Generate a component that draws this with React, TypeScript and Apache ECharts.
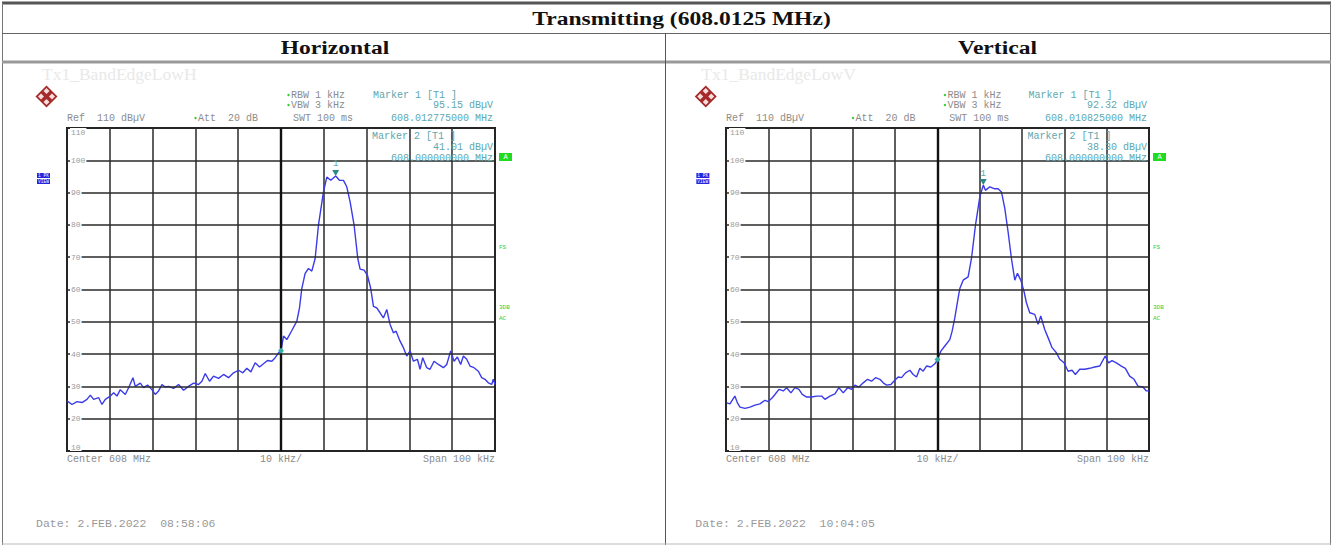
import React, { useEffect, useRef } from "react";
import * as echarts from "echarts";

// ---------- data ----------
const yTicks = [10, 20, 30, 40, 50, 60, 70, 80, 90, 100, 110];

const hFreq = [
  -50, -48.83, -47.67, -46.5, -45.33, -44.55, -43.77, -42.6, -41.83, -41.05, -39.88, -39.1, -38.33, -37.55,
  -36.38, -35.6, -34.59, -34.05, -32.88, -32.1, -31.17, -30.16, -29.38, -28.6, -27.82, -27.04, -26.26, -25.1,
  -23.93, -22.76, -21.6, -20.43, -19.26, -18.48, -17.7, -16.69, -15.76, -14.59, -13.42, -12.26, -11.09, -9.92,
  -8.91, -7.98, -7.04, -6.03, -5.02, -4.09, -3.15, -2.14, -1.36, -0.58, 0, 0.58, 1.36, 2.53, 3.7, 4.32, 4.86,
  5.64, 6.42, 7.2, 7.98, 8.75, 9.92, 10.7, 11.63, 12.775, 13.66, 14.59, 15.37, 16.15, 17.08, 17.94, 18.48,
  19.42, 20.19, 20.97, 21.6, 22.37, 23.15, 23.93, 24.71, 25.49, 26.26, 26.89, 27.82, 28.6, 29.38, 30.16,
  30.93, 31.87, 32.49, 33.11, 34.05, 34.82, 35.76, 36.77, 37.94, 38.72, 39.65, 40.43, 41.21, 41.98, 42.61,
  43.39, 44.16, 45.1, 46.11, 46.89, 47.67, 48.44, 49.22, 49.6, 50,
];
const hLevel = [
  25.5, 24.4, 25.3, 25, 26, 27.3, 26, 26.5, 24.4, 26, 27, 28, 27, 29,
  27.5, 29.6, 32.7, 30, 31, 29.6, 30.4, 29, 27.5, 28.6, 30.6, 29.8, 30, 29.4,
  30.6, 28.8, 30, 31, 30.6, 31.6, 34, 31.6, 33.2, 32.5, 33.7, 32.7, 34.2, 35,
  34.2, 35.6, 34.5, 37.3, 36, 37, 38, 37.8, 38.9, 40.4, 41.0, 45.6, 44.5, 47.3, 50.2, 54.3, 60.3,
  65, 66.5, 65.7, 69.6, 79.9, 90.2, 94.8, 93.8, 95.15, 93.8, 93.8, 91.8, 87.1, 79.9, 69.6, 66.3,
  66, 64.4, 60.3, 54.8, 54.3, 52.8, 51.2, 53.8, 49.2, 46.6, 47.1, 44, 42, 39.4, 41,
  37.8, 38.4, 35.3, 38.9, 35.8, 35.3, 37.8, 36.8, 35.8, 36.8, 41, 37.8, 39.1, 36.8, 39.4,
  38.4, 36.3, 35.8, 34.7, 32.7, 32.2, 31.1, 30.6, 32.2, 30.6,
];

const vFreq = [
  -49.84, -49.06, -48.4, -47.9, -47.3, -46.69, -45.51, -44.33, -43.15, -41.97, -40.79, -40, -39.06, -38.43,
  -37.48, -36.46, -35.67, -34.65, -33.7, -32.76, -31.97, -30.94, -29.76, -28.58, -27.4, -26.61, -25.43, -24.25,
  -23.31, -22.28, -21.26, -20.31, -19.53, -18.58, -17.56, -16.54, -15.59, -14.65, -13.62, -12.83, -12.05, -11.02,
  -10.08, -9.29, -8.5, -7.56, -6.54, -5.75, -4.96, -4.17, -3.39, -2.6, -1.57, -0.63, 0, 0.79, 1.73, 2.91, 3.46,
  4.09, 4.88, 5.28, 6.06, 7.24, 8.03, 8.98, 10, 10.825, 11.34, 12.36, 13.39, 14.33, 15.12, 15.91, 16.69, 17.48,
  18.27, 18.9, 19.69, 20.47, 21.02, 21.81, 22.99, 23.78, 24.41, 25.35, 26.14, 27.09, 28.11, 28.9, 29.92, 30.87,
  31.81, 32.6, 33.62, 34.8, 35.98, 37.17, 38.35, 39.65, 40.43, 41.26, 42.28, 43.46, 44.41, 45.43, 46.46, 47.4,
  48.58, 49.37, 50,
];
const vLevel = [
  24.9, 24.6, 26, 27, 24.9, 23.6, 23.2, 23.6, 24.2, 24.6, 25.7, 25.3, 26.5, 27.5,
  29.1, 28.6, 29.6, 28, 29.6, 29.1, 27.5, 26.7, 26.7, 27, 27, 26, 27, 27.7,
  29.6, 28, 29.6, 29.1, 30.4, 29.8, 31.1, 32.2, 31.6, 32.7, 32.2, 31.1, 30.4, 30.6,
  31.9, 32.9, 32.7, 34.2, 35, 33.7, 32.9, 35.6, 34.7, 36.3, 36, 37, 38.3, 40.9, 42.5, 44.5, 47.1,
  51.2, 57.4, 60.3, 62.9, 63.9, 69.6, 79.9, 88.7, 92.32, 90.7, 91.8, 91.2, 91.2, 90.2, 85.1, 77.8, 69.6,
  62.9, 65, 62.9, 59.3, 55.9, 52.8, 52.3, 49.2, 51.8, 47.6, 45.1, 42, 40.4, 38.4, 37.3, 34.7,
  35, 33.7, 35.3, 35.3, 35.6, 36, 36.3, 39.4, 37.3, 38, 37.3, 36.3, 35.6, 33.2, 32.2, 30.1,
  29.8, 28.6, 28.6,
];

// markers: [freq offset kHz, level dBµV]
const hMarkers = [[12.775, 95.15], [0, 41.01]];
const vMarkers = [[10.825, 92.32], [0, 38.3]];
const hMarkerFreq = ["608.012775000 MHz", "608.000000000 MHz"];
const vMarkerFreq = ["608.010825000 MHz", "608.000000000 MHz"];

const tableTitle = "Transmitting (608.0125 MHz)";
const panelTitles = ["Horizontal", "Vertical"];
const traceNames = ["Tx1_BandEdgeLowH", "Tx1_BandEdgeLowV"];
const dates = ["Date: 2.FEB.2022  08:58:06", "Date: 2.FEB.2022  10:04:05"];

// ---------- styling ----------
const GRAY = "#8c8c8c";
const TEAL = "#5ea7ae";
const GREEN = "#33cc33";
const MONO = "Liberation Mono";
const SERIF = "Liberation Serif";

const PANELS = [
  { gx: 67, gw: 428 },
  { gx: 726, gw: 423 },
];
const GY = 128;
const GH = 323;

function txt(x: number, y: number, text: string, o: any = {}) {
  return {
    type: "text",
    x,
    y,
    scaleX: o.scaleX ?? 1,
    z: 100,
    style: {
      text,
      fill: o.fill ?? GRAY,
      fontSize: o.fontSize ?? 10,
      fontFamily: o.fontFamily ?? MONO,
      fontWeight: o.fontWeight ?? "normal",
      textAlign: o.align ?? "left",
      align: o.align ?? "left",
      textVerticalAlign: "middle",
      verticalAlign: "middle",
    },
  };
}

function panelGraphics(i: number) {
  const { gx, gw } = PANELS[i];
  const sx = (x: number) => gx + ((x - 67) * gw) / 428;
  const right = gx + gw;
  const markers = i === 0 ? hMarkers : vMarkers;
  const mfreq = i === 0 ? hMarkerFreq : vMarkerFreq;
  const els: any[] = [];
  els.push(txt(sx(42), 74, traceNames[i], { fontFamily: SERIF, fontSize: 17.5, fill: "#e9e9e9" }));
  // logo
  const cx = sx(46.5), cy = 96.5, r = 11;
  const dia = (x: number, y: number, h: number) => [[x, y - h], [x + h, y], [x, y + h], [x - h, y]];
  els.push({ type: "polygon", z: 100, shape: { points: dia(cx, cy, r) }, style: { fill: "#a52a2a" } });
  [[-5.5, 0], [5.5, 0], [0, -5.5], [0, 5.5]].forEach(([dx, dy]) => {
    els.push({ type: "polygon", z: 101, shape: { points: dia(cx + dx, cy + dy, 3) }, style: { fill: "#f4dede" } });
  });
  // header texts
  const dot = (x: number, y: number) => ({ type: "circle", z: 100, shape: { cx: x, cy: y, r: 1.2 }, style: { fill: GREEN } });
  els.push(dot(sx(288.5), 95), txt(sx(291), 95, "RBW 1 kHz"));
  els.push(dot(sx(288.5), 105), txt(sx(291), 105, "VBW 3 kHz"));
  els.push(txt(sx(67), 118, "Ref  110 dBµV"));
  els.push(dot(sx(195.5), 118), txt(sx(198), 118, "Att  20 dB"));
  els.push(txt(sx(293), 118, "SWT 100 ms"));
  els.push(txt(sx(373), 95, "Marker 1 [T1 ]", { fill: TEAL }));
  els.push(txt(right - 2, 105, markers[0][1].toFixed(2) + " dBµV", { fill: TEAL, align: "right" }));
  els.push(txt(right - 2, 118, mfreq[0], { fill: TEAL, align: "right" }));
  els.push(txt(sx(372), 136, "Marker 2 [T1 ]", { fill: TEAL }));
  els.push(txt(right - 2, 147, markers[1][1].toFixed(2) + " dBµV", { fill: TEAL, align: "right" }));
  els.push(txt(right - 2, 158, mfreq[1], { fill: TEAL, align: "right" }));
  // side badges
  els.push({ type: "rect", z: 100, shape: { x: right + 4, y: 153, width: 13, height: 8 }, style: { fill: "#1fdc1f" } });
  els.push(txt(right + 10.5, 157, "A", { fill: "#fff", fontSize: 7, align: "center" }));
  els.push(txt(right + 4, 247, "FS", { fill: GREEN, fontSize: 6 }));
  els.push(txt(right + 4, 307, "3DB", { fill: GREEN, fontSize: 6 }));
  els.push(txt(right + 4, 318, "AC", { fill: GREEN, fontSize: 6 }));
  els.push({ type: "rect", z: 100, shape: { x: sx(37), y: 173, width: 13, height: 5 }, style: { fill: "#2323e0" } });
  els.push({ type: "rect", z: 100, shape: { x: sx(37), y: 179, width: 13, height: 5 }, style: { fill: "#2323e0" } });
  els.push(txt(sx(43.5), 175.7, "1 PK", { fill: "#fff", fontSize: 4.5, align: "center" }));
  els.push(txt(sx(43.5), 181.7, "VIEW", { fill: "#fff", fontSize: 4.5, align: "center" }));
  // footer
  els.push(txt(gx, 459, "Center 608 MHz"));
  els.push(txt(gx + gw / 2, 459, "10 kHz/", { align: "center" }));
  els.push(txt(right, 459, "Span 100 kHz", { align: "right" }));
  els.push(txt(sx(36), 523, dates[i], { fontSize: 11.5, fill: "#999" }));
  return els;
}

function tableGraphics() {
  const line = (x1: number, y1: number, x2: number, y2: number, stroke: string, w: number) => ({
    type: "line",
    z: 90,
    shape: { x1, y1, x2, y2 },
    style: { stroke, lineWidth: w },
  });
  const head = { fontFamily: SERIF, fontWeight: "bold", fontSize: 19, fill: "#111", align: "center", scaleX: 1.24 };
  return [
    line(2, 3, 1331, 3, "#555", 3),
    line(2.5, 3, 2.5, 545, "#777", 1),
    line(1330.5, 3, 1330.5, 545, "#777", 1),
    line(2, 33.5, 1331, 33.5, "#666", 1),
    line(2, 62, 1331, 62, "#999", 3),
    line(665.5, 33, 665.5, 545, "#555", 1),
    line(2, 544, 1331, 544, "#bbb", 1),
    txt(681.5, 18.5, tableTitle, head),
    txt(335, 47.5, panelTitles[0], head),
    txt(997.5, 47.5, panelTitles[1], head),
  ];
}

function buildOption() {
  const grids = PANELS.map((p) => ({
    left: p.gx,
    top: GY,
    width: p.gw,
    height: GH,
    show: true,
    borderColor: "#1a1a1a",
    borderWidth: 2,
    containLabel: false,
  }));
  const xAxes = PANELS.map((_, i) => ({
    type: "value",
    gridIndex: i,
    min: -50,
    max: 50,
    interval: 10,
    axisLine: { show: false },
    axisTick: { show: false },
    axisLabel: { show: false },
    splitLine: { show: true, lineStyle: { color: "#2a2a2a", width: 1.5 } },
  }));
  const yAxes = PANELS.map((_, i) => ({
    type: "value",
    gridIndex: i,
    min: yTicks[0],
    max: yTicks[yTicks.length - 1],
    interval: 10,
    axisLine: { show: false },
    axisTick: { show: false },
    axisLabel: {
      inside: true,
      margin: 3,
      fontSize: 8,
      fontFamily: MONO,
      color: "#9a9a9a",
      backgroundColor: "#fff",
      padding: [0, 1],
      verticalAlignMaxLabel: "top",
      verticalAlignMinLabel: "bottom",
    },
    splitLine: { show: true, lineStyle: { color: "#2a2a2a", width: 1.5 } },
    z: 5,
  }));
  const traces = [
    { f: hFreq, l: hLevel, m: hMarkers },
    { f: vFreq, l: vLevel, m: vMarkers },
  ];
  const series = traces.map((t, i) => ({
    type: "line",
    xAxisIndex: i,
    yAxisIndex: i,
    data: t.f.map((f, k) => [f, t.l[k]]),
    showSymbol: false,
    lineStyle: { color: "#3b3be8", width: 1.4 },
    z: 3,
    markLine: {
      silent: true,
      symbol: ["none", "none"],
      label: { show: false },
      lineStyle: { color: "#111", width: 2.4, type: "solid" },
      data: [{ xAxis: 0 }],
    },
    markPoint: {
      silent: true,
      data: [
        {
          coord: t.m[0],
          symbol: "triangle",
          symbolRotate: 180,
          symbolSize: [7, 6],
          symbolOffset: [0, -3],
          itemStyle: { color: "#2a8a8a" },
          label: { show: true, formatter: "1", position: "top", distance: 1, color: TEAL, fontSize: 9, fontFamily: MONO },
        },
        {
          coord: t.m[1],
          symbol: "diamond",
          symbolSize: 6,
          itemStyle: { color: "#30b0a8" },
          label: { show: false },
        },
      ],
    },
  }));
  return {
    animation: false,
    backgroundColor: "#fff",
    grid: grids,
    xAxis: xAxes,
    yAxis: yAxes,
    series,
    graphic: { elements: [...tableGraphics(), ...panelGraphics(0), ...panelGraphics(1)] },
  };
}

export default function App() {
  const ref = useRef<HTMLDivElement>(null);
  useEffect(() => {
    if (!ref.current) return;
    const chart = echarts.init(ref.current, undefined, { renderer: "svg" });
    chart.setOption(buildOption() as any);
    return () => chart.dispose();
  }, []);
  return (
    <div
      ref={ref}
      style={{ position: "fixed", left: 0, top: 0, width: 1333, height: 545, background: "#fff" }}
    />
  );
}
